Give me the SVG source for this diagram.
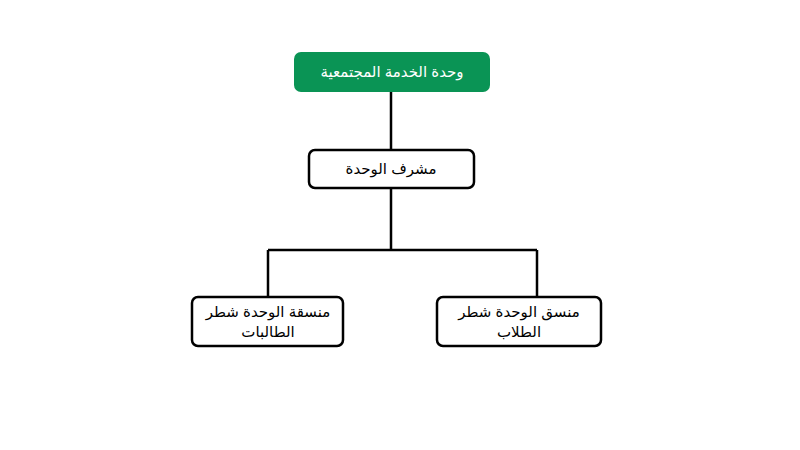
<svg xmlns="http://www.w3.org/2000/svg" width="800" height="450" viewBox="0 0 800 450">
<style>
.box{fill:#fff;stroke:#000;stroke-width:2.5}
.t{font-family:"Liberation Sans","DejaVu Sans",sans-serif;font-size:15px;text-anchor:middle;fill:#000}
.c{fill:none;stroke:#000;stroke-width:2.5}
</style>
<rect width="800" height="450" fill="#fff"/>
<g id="connectors">
<path class="c" d="M391 92V150M391 188V250M268 250H537M268 250V297M537 250V297"/>
</g>
<g id="n1"><rect x="294" y="52" width="196" height="40" rx="7" fill="#0a9455"/><text class="t" x="392" y="77" fill="#fff" style="fill:#fff" direction="rtl">وحدة الخدمة المجتمعية</text></g>
<g id="n2"><rect class="box" x="309" y="150" width="165" height="38" rx="6"/><text class="t" x="391" y="174" direction="rtl">مشرف الوحدة</text></g>
<g id="n3"><rect class="box" x="192" y="297" width="151" height="49" rx="6"/><text class="t" x="268" y="317" direction="rtl">منسقة الوحدة شطر</text><text class="t" x="268" y="337" direction="rtl">الطالبات</text></g>
<g id="n4"><rect class="box" x="437" y="297" width="164" height="49" rx="6"/><text class="t" x="519" y="317" direction="rtl">منسق الوحدة شطر</text><text class="t" x="519" y="337" direction="rtl">الطلاب</text></g>
</svg>
